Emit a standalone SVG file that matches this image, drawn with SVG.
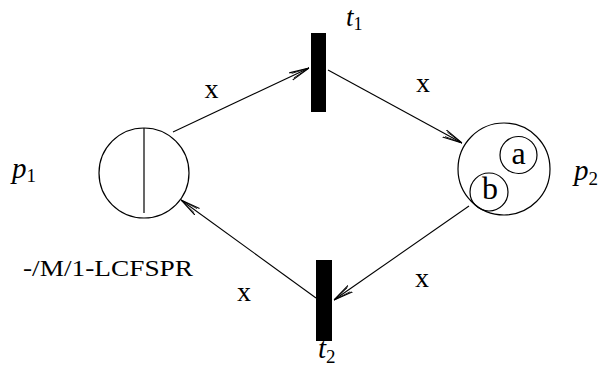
<svg xmlns="http://www.w3.org/2000/svg" width="601" height="380" viewBox="0 0 601 380">
<style>
.pl{fill:none;stroke:#000;stroke-width:1.2}
.tr{fill:#000}
.ed{fill:none;stroke:#000;stroke-width:1.1;marker-end:url(#ah)}
</style>
<defs>
<marker id="ah" viewBox="0 0 20 10" refX="20" refY="5" markerWidth="20" markerHeight="10" markerUnits="userSpaceOnUse" orient="auto">
<path d="M0,1 L20,5 L0,9" fill="none" stroke="#000" stroke-width="1.1"/>
<path d="M2,2.5 L20,5 L2,7.5" fill="none" stroke="#000" stroke-width="0.8"/>
</marker>
</defs>
<g id="p1">
<circle class="pl" cx="144" cy="173" r="45"/>
<line x1="144" y1="128" x2="144" y2="213" stroke="#000" stroke-width="1.2"/>
<text x="12" y="178" font-family="Liberation Serif, serif" font-size="29" font-style="italic">p<tspan font-size="19" font-style="normal" dy="4">1</tspan></text>
<text x="23" y="276" font-family="Liberation Serif, serif" font-size="24" textLength="170" lengthAdjust="spacingAndGlyphs">-/M/1-LCFSPR</text>
</g>
<g id="p2">
<circle class="pl" cx="504" cy="169" r="46"/>
<circle class="pl" cx="518.5" cy="155" r="18.5"/>
<circle class="pl" cx="489" cy="192" r="19"/>
<text x="518.5" y="164" text-anchor="middle" font-family="Liberation Serif, serif" font-size="32">a</text>
<text x="490" y="199" text-anchor="middle" font-family="Liberation Serif, serif" font-size="32">b</text>
<text x="574" y="180" font-family="Liberation Serif, serif" font-size="29" font-style="italic">p<tspan font-size="19" font-style="normal" dy="5">2</tspan></text>
</g>
<g id="t1">
<rect class="tr" x="311" y="33" width="15" height="79"/>
<text x="346" y="26" font-family="Liberation Serif, serif" font-size="27" font-style="italic">t<tspan font-size="18" font-style="normal" dy="4">1</tspan></text>
</g>
<g id="t2">
<rect class="tr" x="316" y="260" width="16" height="81"/>
<text x="318" y="358" font-family="Liberation Serif, serif" font-size="29" font-style="italic">t<tspan font-size="19" font-style="normal" dy="5">2</tspan></text>
</g>
<g id="connectors">
<line class="ed" x1="173" y1="132" x2="309" y2="68"/>
<line class="ed" x1="328" y1="70" x2="462" y2="143"/>
<line class="ed" x1="469" y1="206" x2="334" y2="300"/>
<line class="ed" x1="316" y1="298" x2="181" y2="200"/>
<g font-family="Liberation Serif, serif" font-size="28" text-anchor="middle">
<text x="211.5" y="98">x</text>
<text x="423" y="92">x</text>
<text x="244" y="301">x</text>
<text x="422" y="287">x</text>
</g>
</g>
</svg>
